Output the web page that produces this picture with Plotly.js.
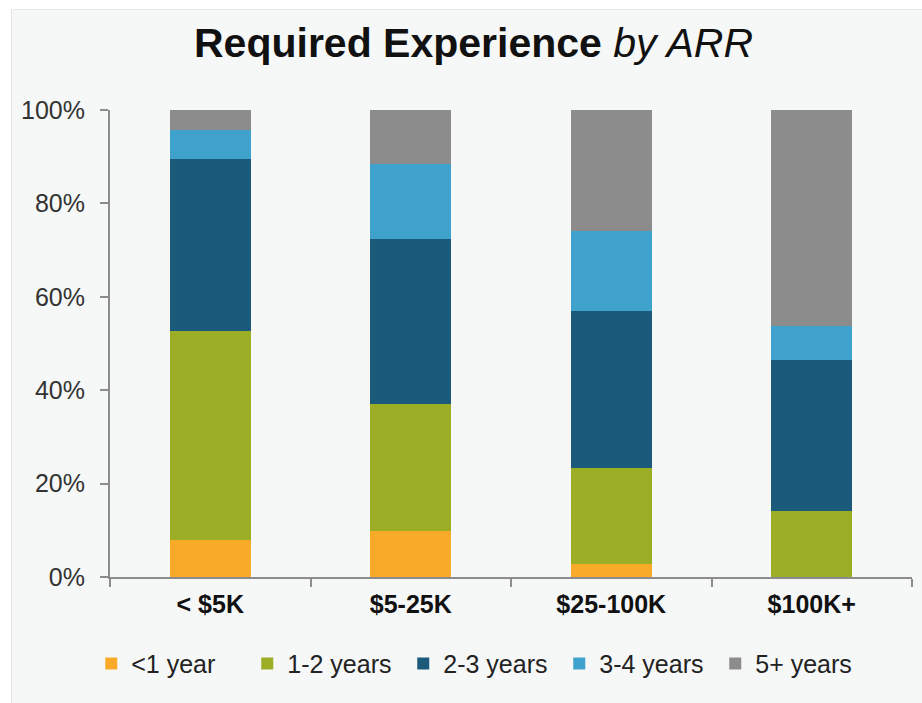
<!DOCTYPE html>
<html>
<head>
<meta charset="utf-8">
<script src="https://cdn.plot.ly/plotly-3.0.1.min.js"></script>
<style>
  html, body { margin: 0; padding: 0; background: #ffffff; width: 922px; height: 703px; overflow: hidden; }
  #chart { position: absolute; left: 11px; top: 9px; width: 911px; height: 694px;
           box-sizing: border-box; border-left: 1px solid #e4e6e2; border-top: 1px solid #e9eae4; }
</style>
</head>
<body>
<div id="chart"></div>
<script>
// Categories (ARR bands)
const categories = ["< $5K", "$5-25K", "$25-100K", "$100K+"];

// Share of companies (%) by required experience
const lessThan1Year = [7.9, 9.9, 2.8, 0];
const oneToTwoYears = [44.8, 27.1, 20.5, 14.1];
const twoToThreeYears = [36.8, 35.4, 33.7, 32.4];
const threeToFourYears = [6.2, 16.0, 17.1, 7.2];
const fivePlusYears = [4.3, 11.6, 25.9, 46.3];

const seriesNames = ["<1 year", "1-2 years", "2-3 years", "3-4 years", "5+ years"];
const seriesValues = [lessThan1Year, oneToTwoYears, twoToThreeYears, threeToFourYears, fivePlusYears];
const seriesColors = ["#f8aa28", "#9bae26", "#1b5a7b", "#3fa2cc", "#8c8c8c"];

const yTickValues = [0, 20, 40, 60, 80, 100];
const yTickLabels = ["0%", "20%", "40%", "60%", "80%", "100%"];

const traces = seriesNames.map((name, i) => ({
  type: "bar",
  name: name,
  x: categories,
  y: seriesValues[i],
  marker: { color: seriesColors[i], line: { width: 0 } },
  hoverinfo: "x+y+name"
}));

const layout = {
  width: 911,
  height: 694,
  barmode: "stack",
  bargap: 0.595,
  paper_bgcolor: "#f6f8f8",
  plot_bgcolor: "#f6f8f8",
  font: { family: "Liberation Sans, Arial, sans-serif", color: "#333333" },
  margin: { l: 98, r: 11, t: 100, b: 127 },
  title: {
    text: "<b>Required Experience</b> <i>by ARR</i>",
    font: { size: 41, color: "#111111", family: "Liberation Sans, Arial, sans-serif" },
    xref: "container", x: 0.5066,
    yref: "container", y: 0.953, yanchor: "middle"
  },
  xaxis: {
    type: "category",
    showgrid: false,
    showline: true,
    linecolor: "#8c8c8c",
    linewidth: 2,
    ticks: "outside",
    tickson: "boundaries",
    ticklen: 8,
    tickcolor: "#8c8c8c",
    tickwidth: 2,
    ticklabelstandoff: 4,
    tickfont: { size: 25, color: "#111111", family: "Liberation Sans, Arial, sans-serif", weight: "bold" },
    zeroline: false
  },
  yaxis: {
    range: [0, 100],
    tickvals: yTickValues,
    ticktext: yTickLabels,
    showgrid: false,
    zeroline: false,
    showline: true,
    linecolor: "#8c8c8c",
    linewidth: 2,
    ticks: "outside",
    ticklen: 8,
    tickcolor: "#8c8c8c",
    tickwidth: 2,
    ticklabelstandoff: 10,
    tickfont: { size: 25, color: "#333333" }
  },
  showlegend: true,
  legend: {
    orientation: "h",
    traceorder: "normal",
    xref: "container", x: 0.087, xanchor: "left",
    yref: "container", y: 0.058, yanchor: "middle",
    font: { size: 25, color: "#222222" },
    bgcolor: "rgba(0,0,0,0)",
    entrywidth: 111,
    itemwidth: 30
  }
};

Plotly.newPlot("chart", traces, layout, { displayModeBar: false, staticPlot: true });
</script>
</body>
</html>
